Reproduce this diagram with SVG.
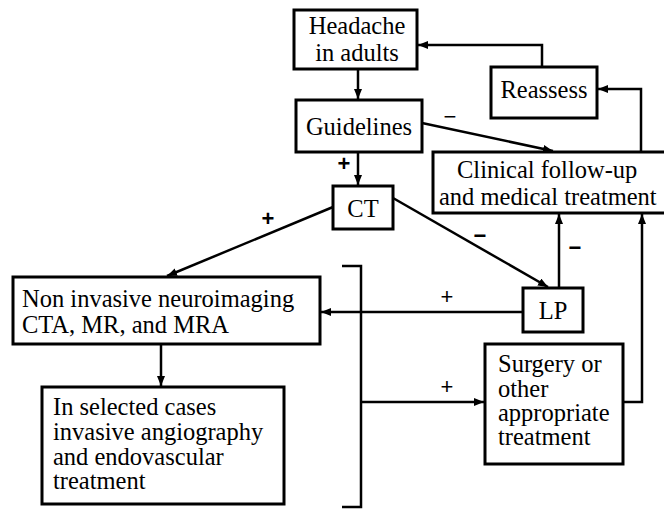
<svg xmlns="http://www.w3.org/2000/svg" width="664" height="509" viewBox="0 0 664 509">
<style>
.box{fill:#fff;stroke:#000;stroke-width:3}
.t{font-size:24.5px;fill:#000}
.m{text-anchor:middle}
.lbl{font-size:22px;fill:#000;text-anchor:middle}
.c{fill:none;stroke:#000;stroke-width:2.5}
</style>
<defs>
<marker id="ah" markerUnits="userSpaceOnUse" markerWidth="11" markerHeight="9" refX="10" refY="4" orient="auto">
<path d="M0,0 L10,4 L0,8 z" fill="#000"/>
</marker>
</defs>
<rect width="664" height="509" fill="#fff"/>
<g id="connectors" font-family="Liberation Sans, Arial, sans-serif">
<line class="c" x1="358" y1="69" x2="358" y2="99" marker-end="url(#ah)"/>
<line class="c" x1="358" y1="152" x2="358" y2="185" marker-end="url(#ah)"/>
<polyline class="c" points="542,67 542,45 418,45" marker-end="url(#ah)"/>
<polyline class="c" points="641,152 641,89 598,89" marker-end="url(#ah)"/>
<line class="c" x1="422" y1="123" x2="553" y2="151" marker-end="url(#ah)"/>
<line class="c" x1="393" y1="198" x2="548" y2="287" marker-end="url(#ah)"/>
<line class="c" x1="333" y1="207" x2="167" y2="276" marker-end="url(#ah)"/>
<line class="c" x1="559" y1="288" x2="559" y2="214" marker-end="url(#ah)"/>
<line class="c" x1="523" y1="312" x2="321" y2="312" marker-end="url(#ah)"/>
<line class="c" x1="161" y1="344" x2="161" y2="386" marker-end="url(#ah)"/>
<polyline class="c" points="342,266 361,266 361,507 342,507"/>
<line class="c" x1="361" y1="402" x2="484" y2="402" marker-end="url(#ah)"/>
<polyline class="c" points="623,402 642,402 642,214" marker-end="url(#ah)"/>
<text class="lbl" x="344" y="171" font-weight="bold">+</text>
<text class="lbl" x="450" y="124">−</text>
<text class="lbl" x="268" y="226" font-weight="bold">+</text>
<text class="lbl" x="480" y="243" font-weight="bold">−</text>
<text class="lbl" x="575" y="255" font-weight="bold">−</text>
<text class="lbl" x="447" y="304">+</text>
<text class="lbl" x="447" y="394">+</text>
</g>
<g font-family="Liberation Serif, Times New Roman, serif">
<g id="headache">
<rect class="box" x="294" y="10" width="123" height="59"/>
<text class="t m" x="357" y="34">Headache</text>
<text class="t m" x="357" y="61">in adults</text>
</g>
<g id="guidelines">
<rect class="box" x="296" y="100" width="126" height="52"/>
<text class="t m" x="359" y="135">Guidelines</text>
</g>
<g id="reassess">
<rect class="box" x="491" y="67" width="106" height="51"/>
<text class="t m" x="544" y="98">Reassess</text>
</g>
<g id="clinical">
<rect class="box" x="433" y="152" width="240" height="61"/>
<text class="t" x="457" y="178">Clinical follow-up</text>
<text class="t" x="439" y="205">and medical treatment</text>
</g>
<g id="ct">
<rect class="box" x="333" y="186" width="60" height="43"/>
<text class="t m" x="363" y="217">CT</text>
</g>
<g id="lp">
<rect class="box" x="523" y="288" width="60" height="44"/>
<text class="t m" x="553" y="319">LP</text>
</g>
<g id="noninvasive">
<rect class="box" x="13" y="277" width="307" height="67"/>
<text class="t" x="22" y="307">Non invasive neuroimaging</text>
<text class="t" x="22" y="333">CTA, MR,  and MRA</text>
</g>
<g id="selected">
<rect class="box" x="42" y="387" width="242" height="117"/>
<text class="t" x="53" y="415">In selected cases</text>
<text class="t" x="53" y="440">invasive angiography</text>
<text class="t" x="53" y="465">and endovascular</text>
<text class="t" x="53" y="489">treatment</text>
</g>
<g id="surgery">
<rect class="box" x="485" y="344" width="138" height="120"/>
<text class="t" x="498" y="372">Surgery or</text>
<text class="t" x="498" y="397">other</text>
<text class="t" x="498" y="421">appropriate</text>
<text class="t" x="498" y="445">treatment</text>
</g>
</g>
</svg>
